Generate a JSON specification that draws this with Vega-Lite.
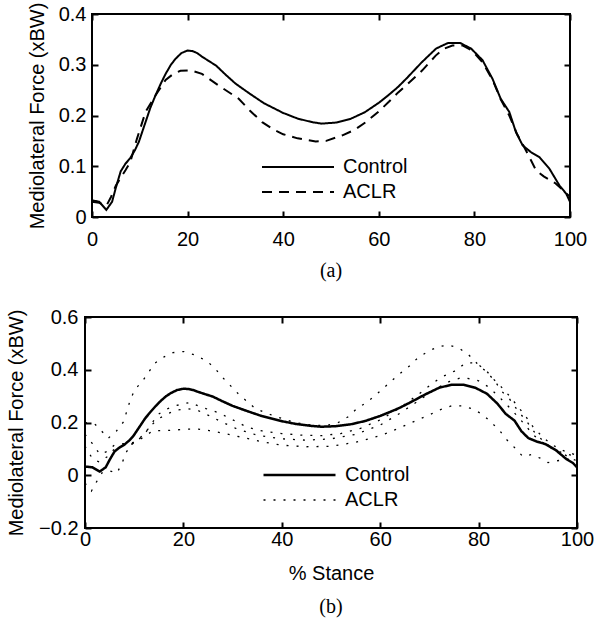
{
  "$schema": "https://vega.github.io/schema/vega-lite/v6.json",
  "background": "white",
  "padding": {"left": 4, "top": 1, "right": 0, "bottom": 0},
  "datasets": {
    "control": [
      {"x":0,"y":0.033,"g":"Control"},{"x":1.5,"y":0.03,"g":"Control"},{"x":3,"y":0.014,"g":"Control"},{"x":4.2,"y":0.03,"g":"Control"},{"x":5,"y":0.058,"g":"Control"},{"x":6,"y":0.09,"g":"Control"},{"x":7,"y":0.105,"g":"Control"},{"x":8,"y":0.116,"g":"Control"},{"x":9,"y":0.132,"g":"Control"},{"x":9.8,"y":0.148,"g":"Control"},{"x":11.2,"y":0.187,"g":"Control"},{"x":12.2,"y":0.215,"g":"Control"},{"x":13.3,"y":0.24,"g":"Control"},{"x":14.4,"y":0.263,"g":"Control"},{"x":15.4,"y":0.282,"g":"Control"},{"x":16.5,"y":0.3,"g":"Control"},{"x":17.5,"y":0.312,"g":"Control"},{"x":18.7,"y":0.323,"g":"Control"},{"x":20,"y":0.328,"g":"Control"},{"x":21,"y":0.327,"g":"Control"},{"x":22,"y":0.323,"g":"Control"},{"x":23,"y":0.316,"g":"Control"},{"x":24,"y":0.31,"g":"Control"},{"x":26,"y":0.298,"g":"Control"},{"x":28,"y":0.28,"g":"Control"},{"x":30,"y":0.263,"g":"Control"},{"x":33,"y":0.243,"g":"Control"},{"x":36,"y":0.224,"g":"Control"},{"x":40,"y":0.205,"g":"Control"},{"x":43,"y":0.194,"g":"Control"},{"x":46,"y":0.187,"g":"Control"},{"x":48,"y":0.184,"g":"Control"},{"x":51,"y":0.186,"g":"Control"},{"x":54,"y":0.193,"g":"Control"},{"x":57,"y":0.206,"g":"Control"},{"x":60,"y":0.225,"g":"Control"},{"x":62,"y":0.24,"g":"Control"},{"x":64,"y":0.256,"g":"Control"},{"x":66,"y":0.275,"g":"Control"},{"x":69,"y":0.305,"g":"Control"},{"x":72,"y":0.332,"g":"Control"},{"x":74.5,"y":0.343,"g":"Control"},{"x":77,"y":0.343,"g":"Control"},{"x":79.3,"y":0.332,"g":"Control"},{"x":81.7,"y":0.309,"g":"Control"},{"x":83.8,"y":0.272,"g":"Control"},{"x":85.5,"y":0.233,"g":"Control"},{"x":87.3,"y":0.207,"g":"Control"},{"x":88.7,"y":0.167,"g":"Control"},{"x":90.1,"y":0.141,"g":"Control"},{"x":91.8,"y":0.128,"g":"Control"},{"x":93.6,"y":0.118,"g":"Control"},{"x":95.7,"y":0.095,"g":"Control"},{"x":97.8,"y":0.062,"g":"Control"},{"x":99.2,"y":0.046,"g":"Control"},{"x":100,"y":0.03,"g":"Control"}
    ],
    "aclr": [
      {"x":0,"y":0.03,"g":"ACLR"},{"x":1.5,"y":0.028,"g":"ACLR"},{"x":3,"y":0.022,"g":"ACLR"},{"x":4,"y":0.04,"g":"ACLR"},{"x":5,"y":0.062,"g":"ACLR"},{"x":7,"y":0.092,"g":"ACLR"},{"x":8,"y":0.108,"g":"ACLR"},{"x":9.4,"y":0.154,"g":"ACLR"},{"x":11.2,"y":0.207,"g":"ACLR"},{"x":13.3,"y":0.24,"g":"ACLR"},{"x":15.4,"y":0.27,"g":"ACLR"},{"x":17,"y":0.282,"g":"ACLR"},{"x":18.5,"y":0.288,"g":"ACLR"},{"x":20.6,"y":0.289,"g":"ACLR"},{"x":23,"y":0.282,"g":"ACLR"},{"x":26.5,"y":0.259,"g":"ACLR"},{"x":30.7,"y":0.233,"g":"ACLR"},{"x":33,"y":0.21,"g":"ACLR"},{"x":35.6,"y":0.187,"g":"ACLR"},{"x":38,"y":0.172,"g":"ACLR"},{"x":40,"y":0.163,"g":"ACLR"},{"x":43,"y":0.155,"g":"ACLR"},{"x":46.8,"y":0.149,"g":"ACLR"},{"x":49,"y":0.15,"g":"ACLR"},{"x":52.4,"y":0.161,"g":"ACLR"},{"x":55,"y":0.172,"g":"ACLR"},{"x":57.3,"y":0.187,"g":"ACLR"},{"x":60,"y":0.208,"g":"ACLR"},{"x":62.1,"y":0.227,"g":"ACLR"},{"x":64,"y":0.245,"g":"ACLR"},{"x":66,"y":0.262,"g":"ACLR"},{"x":69.1,"y":0.289,"g":"ACLR"},{"x":71.9,"y":0.318,"g":"ACLR"},{"x":73.5,"y":0.331,"g":"ACLR"},{"x":75.4,"y":0.338,"g":"ACLR"},{"x":77.5,"y":0.338,"g":"ACLR"},{"x":79.5,"y":0.328,"g":"ACLR"},{"x":81.7,"y":0.305,"g":"ACLR"},{"x":83.8,"y":0.27,"g":"ACLR"},{"x":85.5,"y":0.232,"g":"ACLR"},{"x":87.3,"y":0.2,"g":"ACLR"},{"x":89,"y":0.162,"g":"ACLR"},{"x":90.3,"y":0.14,"g":"ACLR"},{"x":91.5,"y":0.118,"g":"ACLR"},{"x":92.9,"y":0.092,"g":"ACLR"},{"x":94.5,"y":0.08,"g":"ACLR"},{"x":97,"y":0.066,"g":"ACLR"},{"x":100,"y":0.04,"g":"ACLR"}
    ],
    "aclr_b": [
      {"x":0,"y":0.2,"g":"ACLR","s":"1"},{"x":2,"y":0.194,"g":"ACLR","s":"1"},{"x":3.5,"y":0.165,"g":"ACLR","s":"1"},{"x":4.7,"y":0.14,"g":"ACLR","s":"1"},{"x":6.4,"y":0.168,"g":"ACLR","s":"1"},{"x":7.9,"y":0.204,"g":"ACLR","s":"1"},{"x":8.5,"y":0.244,"g":"ACLR","s":"1"},{"x":9.2,"y":0.285,"g":"ACLR","s":"1"},{"x":10.1,"y":0.324,"g":"ACLR","s":"1"},{"x":11.6,"y":0.355,"g":"ACLR","s":"1"},{"x":12.9,"y":0.39,"g":"ACLR","s":"1"},{"x":14.2,"y":0.425,"g":"ACLR","s":"1"},{"x":16.1,"y":0.449,"g":"ACLR","s":"1"},{"x":17.9,"y":0.465,"g":"ACLR","s":"1"},{"x":20.1,"y":0.469,"g":"ACLR","s":"1"},{"x":22.3,"y":0.456,"g":"ACLR","s":"1"},{"x":24.7,"y":0.434,"g":"ACLR","s":"1"},{"x":26.4,"y":0.406,"g":"ACLR","s":"1"},{"x":27.8,"y":0.374,"g":"ACLR","s":"1"},{"x":29.4,"y":0.343,"g":"ACLR","s":"1"},{"x":31.1,"y":0.31,"g":"ACLR","s":"1"},{"x":32.8,"y":0.282,"g":"ACLR","s":"1"},{"x":34.5,"y":0.255,"g":"ACLR","s":"1"},{"x":36.5,"y":0.238,"g":"ACLR","s":"1"},{"x":38.9,"y":0.222,"g":"ACLR","s":"1"},{"x":41.1,"y":0.209,"g":"ACLR","s":"1"},{"x":43.3,"y":0.198,"g":"ACLR","s":"1"},{"x":46,"y":0.19,"g":"ACLR","s":"1"},{"x":49,"y":0.188,"g":"ACLR","s":"1"},{"x":51.5,"y":0.2,"g":"ACLR","s":"1"},{"x":53.5,"y":0.222,"g":"ACLR","s":"1"},{"x":55.1,"y":0.25,"g":"ACLR","s":"1"},{"x":57.2,"y":0.276,"g":"ACLR","s":"1"},{"x":58.9,"y":0.301,"g":"ACLR","s":"1"},{"x":60.6,"y":0.329,"g":"ACLR","s":"1"},{"x":62.3,"y":0.358,"g":"ACLR","s":"1"},{"x":64.3,"y":0.39,"g":"ACLR","s":"1"},{"x":66,"y":0.415,"g":"ACLR","s":"1"},{"x":67.7,"y":0.446,"g":"ACLR","s":"1"},{"x":69.7,"y":0.469,"g":"ACLR","s":"1"},{"x":71.7,"y":0.487,"g":"ACLR","s":"1"},{"x":73.8,"y":0.494,"g":"ACLR","s":"1"},{"x":76,"y":0.482,"g":"ACLR","s":"1"},{"x":78,"y":0.456,"g":"ACLR","s":"1"},{"x":79.7,"y":0.424,"g":"ACLR","s":"1"},{"x":81.7,"y":0.39,"g":"ACLR","s":"1"},{"x":83.3,"y":0.358,"g":"ACLR","s":"1"},{"x":84.6,"y":0.32,"g":"ACLR","s":"1"},{"x":86.3,"y":0.289,"g":"ACLR","s":"1"},{"x":88,"y":0.244,"g":"ACLR","s":"1"},{"x":89.7,"y":0.206,"g":"ACLR","s":"1"},{"x":91.4,"y":0.162,"g":"ACLR","s":"1"},{"x":93.7,"y":0.119,"g":"ACLR","s":"1"},{"x":96.1,"y":0.093,"g":"ACLR","s":"1"},{"x":99,"y":0.062,"g":"ACLR","s":"1"},{"x":100,"y":0.055,"g":"ACLR","s":"1"},
      {"x":0,"y":0.155,"g":"ACLR","s":"2"},{"x":1.5,"y":0.12,"g":"ACLR","s":"2"},{"x":3,"y":0.08,"g":"ACLR","s":"2"},{"x":4.5,"y":0.09,"g":"ACLR","s":"2"},{"x":6,"y":0.115,"g":"ACLR","s":"2"},{"x":8,"y":0.12,"g":"ACLR","s":"2"},{"x":10,"y":0.125,"g":"ACLR","s":"2"},{"x":11.4,"y":0.146,"g":"ACLR","s":"2"},{"x":12.8,"y":0.175,"g":"ACLR","s":"2"},{"x":14.8,"y":0.23,"g":"ACLR","s":"2"},{"x":16.5,"y":0.25,"g":"ACLR","s":"2"},{"x":18.2,"y":0.263,"g":"ACLR","s":"2"},{"x":19.9,"y":0.27,"g":"ACLR","s":"2"},{"x":21.3,"y":0.276,"g":"ACLR","s":"2"},{"x":23,"y":0.263,"g":"ACLR","s":"2"},{"x":25,"y":0.25,"g":"ACLR","s":"2"},{"x":27,"y":0.238,"g":"ACLR","s":"2"},{"x":29.1,"y":0.219,"g":"ACLR","s":"2"},{"x":31.1,"y":0.2,"g":"ACLR","s":"2"},{"x":33.1,"y":0.181,"g":"ACLR","s":"2"},{"x":36,"y":0.168,"g":"ACLR","s":"2"},{"x":40,"y":0.158,"g":"ACLR","s":"2"},{"x":44,"y":0.152,"g":"ACLR","s":"2"},{"x":48,"y":0.15,"g":"ACLR","s":"2"},{"x":52,"y":0.158,"g":"ACLR","s":"2"},{"x":56,"y":0.178,"g":"ACLR","s":"2"},{"x":60,"y":0.21,"g":"ACLR","s":"2"},{"x":64,"y":0.255,"g":"ACLR","s":"2"},{"x":68,"y":0.31,"g":"ACLR","s":"2"},{"x":70.7,"y":0.35,"g":"ACLR","s":"2"},{"x":72.8,"y":0.375,"g":"ACLR","s":"2"},{"x":75.1,"y":0.395,"g":"ACLR","s":"2"},{"x":77.5,"y":0.427,"g":"ACLR","s":"2"},{"x":79.5,"y":0.425,"g":"ACLR","s":"2"},{"x":81.4,"y":0.4,"g":"ACLR","s":"2"},{"x":83,"y":0.365,"g":"ACLR","s":"2"},{"x":84.6,"y":0.335,"g":"ACLR","s":"2"},{"x":86.3,"y":0.3,"g":"ACLR","s":"2"},{"x":87.8,"y":0.265,"g":"ACLR","s":"2"},{"x":89.5,"y":0.225,"g":"ACLR","s":"2"},{"x":91,"y":0.185,"g":"ACLR","s":"2"},{"x":93,"y":0.145,"g":"ACLR","s":"2"},{"x":95,"y":0.115,"g":"ACLR","s":"2"},{"x":97,"y":0.095,"g":"ACLR","s":"2"},{"x":100,"y":0.075,"g":"ACLR","s":"2"},
      {"x":0,"y":0.11,"g":"ACLR","s":"3"},{"x":1.6,"y":0.06,"g":"ACLR","s":"3"},{"x":3,"y":0.05,"g":"ACLR","s":"3"},{"x":4.5,"y":0.07,"g":"ACLR","s":"3"},{"x":6,"y":0.1,"g":"ACLR","s":"3"},{"x":8,"y":0.115,"g":"ACLR","s":"3"},{"x":10,"y":0.12,"g":"ACLR","s":"3"},{"x":12,"y":0.155,"g":"ACLR","s":"3"},{"x":13.5,"y":0.19,"g":"ACLR","s":"3"},{"x":15,"y":0.215,"g":"ACLR","s":"3"},{"x":17,"y":0.235,"g":"ACLR","s":"3"},{"x":19,"y":0.248,"g":"ACLR","s":"3"},{"x":21,"y":0.252,"g":"ACLR","s":"3"},{"x":23,"y":0.245,"g":"ACLR","s":"3"},{"x":25,"y":0.228,"g":"ACLR","s":"3"},{"x":28,"y":0.2,"g":"ACLR","s":"3"},{"x":31,"y":0.175,"g":"ACLR","s":"3"},{"x":35,"y":0.152,"g":"ACLR","s":"3"},{"x":40,"y":0.138,"g":"ACLR","s":"3"},{"x":45,"y":0.133,"g":"ACLR","s":"3"},{"x":50,"y":0.138,"g":"ACLR","s":"3"},{"x":55,"y":0.155,"g":"ACLR","s":"3"},{"x":60,"y":0.19,"g":"ACLR","s":"3"},{"x":64,"y":0.235,"g":"ACLR","s":"3"},{"x":68,"y":0.285,"g":"ACLR","s":"3"},{"x":71,"y":0.325,"g":"ACLR","s":"3"},{"x":74,"y":0.355,"g":"ACLR","s":"3"},{"x":76.5,"y":0.37,"g":"ACLR","s":"3"},{"x":78.5,"y":0.365,"g":"ACLR","s":"3"},{"x":80,"y":0.358,"g":"ACLR","s":"3"},{"x":82,"y":0.335,"g":"ACLR","s":"3"},{"x":84,"y":0.3,"g":"ACLR","s":"3"},{"x":85.6,"y":0.27,"g":"ACLR","s":"3"},{"x":87.6,"y":0.23,"g":"ACLR","s":"3"},{"x":89.5,"y":0.19,"g":"ACLR","s":"3"},{"x":91,"y":0.155,"g":"ACLR","s":"3"},{"x":93,"y":0.125,"g":"ACLR","s":"3"},{"x":95,"y":0.1,"g":"ACLR","s":"3"},{"x":97,"y":0.085,"g":"ACLR","s":"3"},{"x":100,"y":0.07,"g":"ACLR","s":"3"},
      {"x":0,"y":-0.03,"g":"ACLR","s":"4"},{"x":1.3,"y":-0.06,"g":"ACLR","s":"4"},{"x":2.4,"y":-0.023,"g":"ACLR","s":"4"},{"x":3.5,"y":0.01,"g":"ACLR","s":"4"},{"x":4.9,"y":0.017,"g":"ACLR","s":"4"},{"x":6.5,"y":0.008,"g":"ACLR","s":"4"},{"x":7.6,"y":0.049,"g":"ACLR","s":"4"},{"x":8.3,"y":0.085,"g":"ACLR","s":"4"},{"x":9.5,"y":0.118,"g":"ACLR","s":"4"},{"x":11.8,"y":0.143,"g":"ACLR","s":"4"},{"x":13.8,"y":0.169,"g":"ACLR","s":"4"},{"x":16.2,"y":0.169,"g":"ACLR","s":"4"},{"x":18.6,"y":0.172,"g":"ACLR","s":"4"},{"x":20.9,"y":0.175,"g":"ACLR","s":"4"},{"x":23,"y":0.175,"g":"ACLR","s":"4"},{"x":25.3,"y":0.169,"g":"ACLR","s":"4"},{"x":27.4,"y":0.162,"g":"ACLR","s":"4"},{"x":29.7,"y":0.153,"g":"ACLR","s":"4"},{"x":32.1,"y":0.143,"g":"ACLR","s":"4"},{"x":36,"y":0.127,"g":"ACLR","s":"4"},{"x":40,"y":0.114,"g":"ACLR","s":"4"},{"x":45,"y":0.108,"g":"ACLR","s":"4"},{"x":50,"y":0.11,"g":"ACLR","s":"4"},{"x":55,"y":0.125,"g":"ACLR","s":"4"},{"x":60,"y":0.15,"g":"ACLR","s":"4"},{"x":64,"y":0.18,"g":"ACLR","s":"4"},{"x":68,"y":0.213,"g":"ACLR","s":"4"},{"x":70,"y":0.229,"g":"ACLR","s":"4"},{"x":72.1,"y":0.248,"g":"ACLR","s":"4"},{"x":74.5,"y":0.263,"g":"ACLR","s":"4"},{"x":76.8,"y":0.263,"g":"ACLR","s":"4"},{"x":78.9,"y":0.251,"g":"ACLR","s":"4"},{"x":80.9,"y":0.229,"g":"ACLR","s":"4"},{"x":82.6,"y":0.2,"g":"ACLR","s":"4"},{"x":84.3,"y":0.169,"g":"ACLR","s":"4"},{"x":85.6,"y":0.137,"g":"ACLR","s":"4"},{"x":87.3,"y":0.105,"g":"ACLR","s":"4"},{"x":89,"y":0.071,"g":"ACLR","s":"4"},{"x":90.7,"y":0.078,"g":"ACLR","s":"4"},{"x":92.5,"y":0.065,"g":"ACLR","s":"4"},{"x":94.1,"y":0.048,"g":"ACLR","s":"4"},{"x":96,"y":0.055,"g":"ACLR","s":"4"},{"x":98,"y":0.06,"g":"ACLR","s":"4"},{"x":100,"y":0.06,"g":"ACLR","s":"4"}
    ]
  },
  "spacing": 100,
  "bounds": "flush",
  "center": true,
  "resolve": {
    "scale": {"strokeDash": "independent", "strokeWidth": "independent"},
    "legend": {"strokeDash": "independent", "strokeWidth": "independent"}
  },
  "vconcat": [
    {
      "width": 478,
      "height": 203,
      "title": {"text": "(a)", "orient": "bottom", "anchor": "middle", "font": "Liberation Serif", "fontSize": 20, "fontWeight": "normal", "color": "black", "offset": 12},
      "resolve": {"axis": {"x": "independent", "y": "independent"}},
      "layer": [
        {
          "data": {"name": "aclr"},
          "mark": {"type": "line", "strokeWidth": 2, "color": "black"},
          "encoding": {
            "x": {"field": "x", "type": "quantitative", "scale": {"domain": [0, 100], "nice": false}, "axis": {"orient": "bottom", "values": [0, 20, 40, 60, 80, 100], "title": null, "labelPadding": 18}},
            "y": {"field": "y", "type": "quantitative", "scale": {"domain": [0, 0.4], "nice": false, "zero": false}, "axis": {"orient": "left", "values": [0, 0.1, 0.2, 0.3, 0.4], "format": "~g", "title": "Mediolateral Force (xBW)", "titleX": -55, "titleBaseline": "middle", "labelPadding": 12}},
            "strokeDash": {"field": "g", "type": "nominal", "scale": {"domain": ["Control", "ACLR"], "range": [[1, 0], [10, 7]]}, "legend": {"orient": "none", "legendX": 169, "legendY": 143, "title": null, "symbolStrokeWidth": 2}}
          }
        },
        {
          "data": {"name": "control"},
          "mark": {"type": "line", "strokeWidth": 2, "color": "black"},
          "encoding": {
            "x": {"field": "x", "type": "quantitative", "axis": {"orient": "top", "values": [0, 20, 40, 60, 80, 100], "labels": false, "title": null}},
            "y": {"field": "y", "type": "quantitative", "axis": {"orient": "right", "values": [0, 0.1, 0.2, 0.3, 0.4], "labels": false, "title": null}},
            "strokeDash": {"field": "g", "type": "nominal", "legend": {"orient": "none", "legendX": 169, "legendY": 143, "title": null, "symbolStrokeWidth": 2}}
          }
        }
      ]
    },
    {
      "width": 492,
      "height": 211,
      "title": {"text": "(b)", "orient": "bottom", "anchor": "middle", "font": "Liberation Serif", "fontSize": 20, "fontWeight": "normal", "color": "black", "offset": 14},
      "resolve": {"axis": {"x": "independent", "y": "independent"}},
      "layer": [
        {
          "data": {"name": "aclr_b"},
          "mark": {"type": "line", "color": "black"},
          "encoding": {
            "x": {"field": "x", "type": "quantitative", "scale": {"domain": [0, 100], "nice": false}, "axis": {"orient": "bottom", "values": [0, 20, 40, 60, 80, 100], "title": "% Stance", "titleY": 45, "titleBaseline": "middle", "labelPadding": 7}},
            "y": {"field": "y", "type": "quantitative", "scale": {"domain": [-0.2, 0.6], "nice": false, "zero": false}, "axis": {"orient": "left", "values": [-0.2, 0, 0.2, 0.4, 0.6], "format": "~g", "title": "Mediolateral Force (xBW)", "titleX": -69, "titleBaseline": "middle", "labelPadding": 13}},
            "detail": {"field": "s", "type": "nominal"},
            "strokeDash": {"field": "g", "type": "nominal", "scale": {"domain": ["Control", "ACLR"], "range": [[1, 0], [2, 8]]}, "legend": {"orient": "none", "legendX": 177, "legendY": 148, "title": null}},
            "strokeWidth": {"field": "g", "type": "nominal", "scale": {"domain": ["Control", "ACLR"], "range": [2.5, 1.3]}, "legend": {"orient": "none", "legendX": 177, "legendY": 148, "title": null}}
          }
        },
        {
          "data": {"name": "control"},
          "mark": {"type": "line", "color": "black"},
          "encoding": {
            "x": {"field": "x", "type": "quantitative", "axis": {"orient": "top", "values": [0, 20, 40, 60, 80, 100], "labels": false, "title": null}},
            "y": {"field": "y", "type": "quantitative", "axis": {"orient": "right", "values": [-0.2, 0, 0.2, 0.4, 0.6], "labels": false, "title": null}},
            "strokeDash": {"field": "g", "type": "nominal", "legend": {"orient": "none", "legendX": 177, "legendY": 148, "title": null}},
            "strokeWidth": {"field": "g", "type": "nominal", "legend": {"orient": "none", "legendX": 177, "legendY": 148, "title": null}}
          }
        }
      ]
    }
  ],
  "config": {
    "font": "Liberation Sans",
    "view": {"stroke": "black", "strokeWidth": 2},
    "axis": {
      "domain": false, "grid": false, "ticks": true, "tickSize": -6, "tickWidth": 2, "tickColor": "black",
      "labelFont": "Liberation Sans", "labelFontSize": 20, "labelColor": "black", "labelFlush": false, "labelOverlap": false, "labelBound": false,
      "titleFont": "Liberation Sans", "titleFontSize": 20, "titleFontWeight": "normal", "titleColor": "black"
    },
    "legend": {
      "symbolType": "stroke", "symbolSize": 5184, "symbolStrokeColor": "black",
      "labelFont": "Liberation Sans", "labelFontSize": 20, "labelColor": "black", "labelOffset": 8, "labelLimit": 0,
      "clipHeight": 20, "rowPadding": 5, "padding": 0, "symbolOffset": 0
    }
  }
}
